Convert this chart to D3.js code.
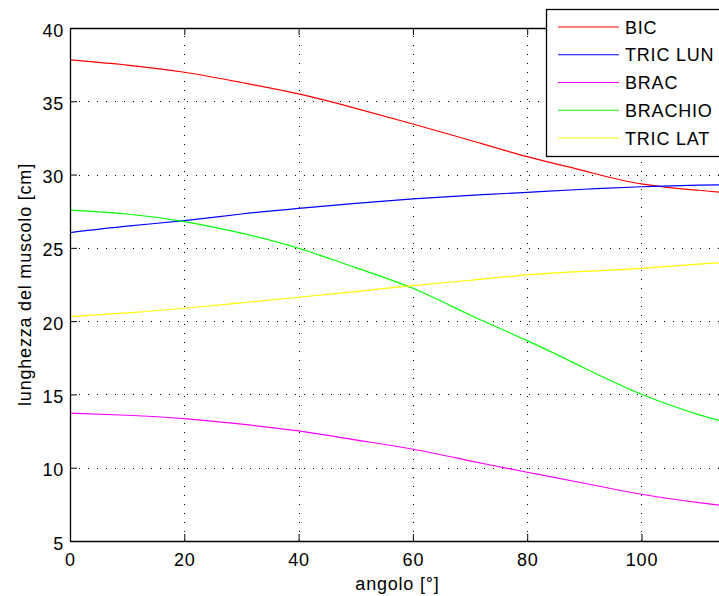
<!DOCTYPE html>
<html>
<head>
<meta charset="utf-8">
<script src="https://cdn.jsdelivr.net/npm/d3@7"></script>
<style>
  html, body { margin: 0; padding: 0; background: #fff; overflow: hidden; }
  svg { display: block; }
  text { font-family: "Liberation Sans", Arial, Helvetica, sans-serif; font-size: 18px; fill: #000; letter-spacing: 0.8px; }
</style>
</head>
<body>
<svg id="chart" width="719" height="596"></svg>
<script>
// ---- data ----
const angles   = [0, 10, 20, 30, 40, 50, 60, 70, 80, 90, 100, 110, 114.6];
const BIC      = [37.82, 37.47, 36.98, 36.28, 35.50, 34.52, 33.45, 32.34, 31.22, 30.25, 29.36, 28.93, 28.77];
const TRIC_LUN = [26.04, 26.48, 26.86, 27.31, 27.70, 28.04, 28.34, 28.58, 28.79, 29.00, 29.17, 29.28, 29.31];
const BRAC     = [13.72, 13.58, 13.35, 12.97, 12.51, 11.90, 11.26, 10.47, 9.69, 8.94, 8.19, 7.62, 7.41];
const BRACHIO  = [27.58, 27.31, 26.79, 26.00, 24.97, 23.65, 22.24, 20.42, 18.67, 16.80, 15.01, 13.62, 13.14];
const TRIC_LAT = [20.31, 20.56, 20.88, 21.25, 21.63, 22.02, 22.42, 22.79, 23.15, 23.39, 23.60, 23.89, 23.99];

const seriesNames  = ["BIC", "TRIC LUN", "BRAC", "BRACHIO", "TRIC LAT"];
const seriesValues = [BIC, TRIC_LUN, BRAC, BRACHIO, TRIC_LAT];
const seriesColors = ["#ff0000", "#0000ff", "#ff00ff", "#00ff00", "#ffff00"];

const xTicks = [0, 20, 40, 60, 80, 100];
const yTicks = [5, 10, 15, 20, 25, 30, 35, 40];
const xDomain = [0, 114.6];
const yDomain = [5, 40];
const xTitle = "angolo [°]";
const yTitle = "lunghezza del muscolo [cm]";

// ---- layout ----
const mLeft = 70, mTop = 28, mBottom = 541;
const pxPerDeg = 5.715;
const mRight = mLeft + (xDomain[1] - xDomain[0]) * pxPerDeg;

const svg = d3.select("#chart");
svg.append("rect").attr("width", 719).attr("height", 596).attr("fill", "#fff");

const x = d3.scaleLinear().domain(xDomain).range([mLeft, mRight]);
const y = d3.scaleLinear().domain(yDomain).range([mBottom, mTop]);

svg.append("defs").append("clipPath").attr("id", "plotclip")
  .append("rect").attr("x", mLeft).attr("y", mTop).attr("width", mRight - mLeft).attr("height", mBottom - mTop);

// grid
const grid = svg.append("g").attr("stroke", "#000").attr("stroke-width", 1)
  .attr("stroke-dasharray", "1,8").attr("shape-rendering", "crispEdges");
grid.selectAll("line.gx").data(xTicks.filter(t => t > xDomain[0])).enter().append("line")
  .attr("x1", d => Math.round(x(d)) + 0.5).attr("x2", d => Math.round(x(d)) + 0.5)
  .attr("y1", mBottom).attr("y2", mTop);
grid.selectAll("line.gy").data(yTicks.filter(t => t > yDomain[0] && t < yDomain[1])).enter().append("line")
  .attr("x1", mLeft).attr("x2", mRight)
  .attr("y1", d => Math.round(y(d)) + 0.5).attr("y2", d => Math.round(y(d)) + 0.5);

// series lines
const line = d3.line().x((d, i) => x(angles[i])).y(d => y(d)).curve(d3.curveNatural);
const plot = svg.append("g").attr("clip-path", "url(#plotclip)");
seriesValues.forEach((vals, k) => {
  plot.append("path").datum(vals).attr("d", line)
    .attr("fill", "none").attr("stroke", seriesColors[k]).attr("stroke-width", 1.2);
});

// axes (inward ticks like MATLAB)
const tickLen = 7;
const xAxisB = svg.append("g").attr("transform", `translate(0,${mBottom})`)
  .call(d3.axisBottom(x).tickValues(xTicks).tickSize(-tickLen).tickSizeOuter(0));
xAxisB.selectAll("text").attr("y", 25).attr("dy", 0);
const xAxisT = svg.append("g").attr("transform", `translate(0,${mTop})`)
  .call(d3.axisTop(x).tickValues(xTicks).tickSize(-tickLen).tickSizeOuter(0).tickFormat(""));
const yAxisL = svg.append("g").attr("transform", `translate(${mLeft},0)`)
  .call(d3.axisLeft(y).tickValues(yTicks).tickSize(-tickLen).tickSizeOuter(0));
yAxisL.selectAll("text").attr("x", -6).attr("dy", 8);
const yAxisR = svg.append("g").attr("transform", `translate(${mRight},0)`)
  .call(d3.axisRight(y).tickValues(yTicks).tickSize(-tickLen).tickSizeOuter(0).tickFormat(""));

[xAxisB, xAxisT, yAxisL, yAxisR].forEach(g => {
  g.selectAll(".domain").attr("stroke", "#000").attr("stroke-width", 1.3);
  g.selectAll(".tick line").attr("stroke", "#000");
  g.selectAll("text").attr("fill", "#000");
});
svg.selectAll("g[font-family]").attr("font-family", null).attr("font-size", null);

// titles
svg.append("text").attr("x", (mLeft + mRight) / 2).attr("y", 590)
  .attr("text-anchor", "middle").text(xTitle);
svg.append("text").attr("transform", `translate(31,${(mTop + mBottom) / 2}) rotate(-90)`)
  .attr("text-anchor", "middle").text(yTitle);

// legend
const lg = svg.append("g");
lg.append("rect").attr("x", 546.5).attr("y", 9.5).attr("width", 200).attr("height", 147)
  .attr("fill", "#fff").attr("stroke", "#000").attr("stroke-width", 1.3);
const rowY = i => 27 + i * 27.75;
seriesNames.forEach((name, i) => {
  lg.append("line").attr("x1", 558).attr("x2", 619).attr("y1", rowY(i)).attr("y2", rowY(i))
    .attr("stroke", seriesColors[i]).attr("stroke-width", 1.2);
  lg.append("text").attr("x", 625).attr("y", rowY(i) + 6.5).text(name);
});
</script>
</body>
</html>
